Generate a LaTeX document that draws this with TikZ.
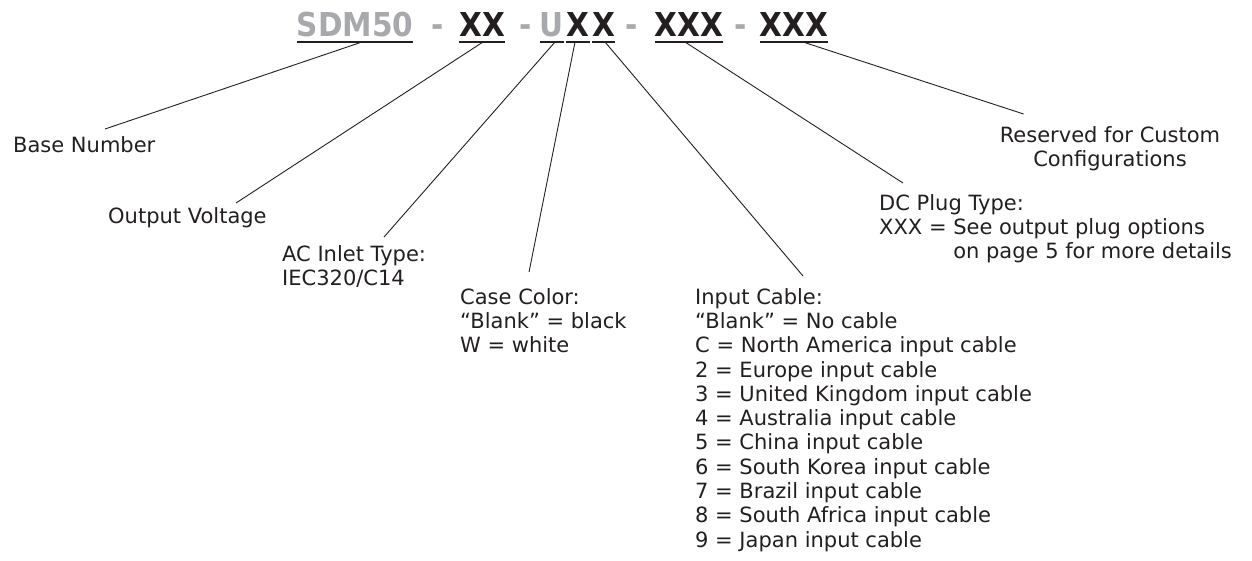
\documentclass[tikz,border=0pt]{standalone}
\usepackage{fontspec}
\setmainfont{DejaVu Sans}
\newfontfamily\partfont[FakeStretch=0.9]{DejaVu Sans}
\definecolor{partgray}{HTML}{A7A9AC}
\definecolor{partblack}{HTML}{231F20}
\begin{document}
\begin{tikzpicture}[x=1pt, y=-1pt,
    part/.style={inner sep=0pt, anchor=base, text=partblack, font=\partfont\bfseries\fontsize{32.9}{36}\selectfont},
    desc/.style={inner sep=0pt, anchor=north west, align=left, text=partblack, font=\fontsize{21}{24.3}\selectfont},
    uline/.style={draw=partblack, line width=1.5pt},
    leader/.style={draw=partblack, line width=0.9pt}]
  \useasboundingbox (0, 0) rectangle (1252, 560);
  \node[part, text=partgray] (sdm) at (355, 36) {SDM50};
  \node[part, text=partgray] (d1) at (437.5, 36) {-};
  \node[part] (volt) at (482, 36) {XX};
  \node[part, text=partgray] (d2) at (526, 36) {-};
  \node[part, text=partgray] (u) at (552, 36) {U};
  \node[part] (case) at (578, 36) {X};
  \node[part] (cable) at (603.5, 36) {X};
  \node[part, text=partgray] (d3) at (632, 36) {-};
  \node[part] (plug) at (689, 36) {XXX};
  \node[part, text=partgray] (d4) at (741, 36) {-};
  \node[part] (rsv) at (794, 36) {XXX};
  \foreach \p in {sdm, volt, u, case, cable, plug, rsv}
    \draw[uline] ([yshift=-6pt]\p.base west) -- ([yshift=-6pt]\p.base east);
  \node[desc] (base-txt) at (13, 136) {Base Number};
  \node[desc] (volt-txt) at (108, 207) {Output Voltage};
  \node[desc] (inlet-txt) at (282, 245) {AC Inlet Type:\\IEC320/C14};
  \node[desc] (case-txt) at (460, 288) {Case Color:\\“Blank” = black\\W = white};
  \node[desc] (cable-txt) at (695, 288) {Input Cable:\\“Blank” = No cable\\C = North America input cable\\2 = Europe input cable\\3 = United Kingdom input cable\\4 = Australia input cable\\5 = China input cable\\6 = South Korea input cable\\7 = Brazil input cable\\8 = South Africa input cable\\9 = Japan input cable};
  \node[desc] (plug-txt) at (879, 194) {DC Plug Type:\\XXX = See output plug options\\\phantom{XXX = }on page 5 for more details};
  \node[desc, anchor=north, align=center] (rsv-txt) at (1110, 126) {Reserved for Custom\\Configurations};
  \draw[leader] ([xshift=7pt, yshift=-6pt]sdm.base) -- ([xshift=92pt, yshift=7pt]base-txt.north west);
  \draw[leader] ([xshift=1pt, yshift=-6pt]volt.base) -- ([xshift=128pt, yshift=4pt]volt-txt.north west);
  \draw[leader] ([xshift=3pt, yshift=-6pt]u.base) -- ([xshift=102pt, yshift=8pt]inlet-txt.north west);
  \draw[leader] ([xshift=-3pt, yshift=-6pt]case.base) -- ([xshift=69pt, yshift=16pt]case-txt.north west);
  \draw[leader] ([xshift=1.5pt, yshift=-6pt]cable.base) -- ([xshift=108pt, yshift=12pt]cable-txt.north west);
  \draw[leader] ([xshift=-4pt, yshift=-6pt]plug.base) -- ([xshift=24pt, yshift=11pt]plug-txt.north west);
  \draw[leader] ([xshift=9pt, yshift=-6pt]rsv.base) -- ([xshift=24pt, yshift=12pt]rsv-txt.north west);
\end{tikzpicture}
\end{document}
